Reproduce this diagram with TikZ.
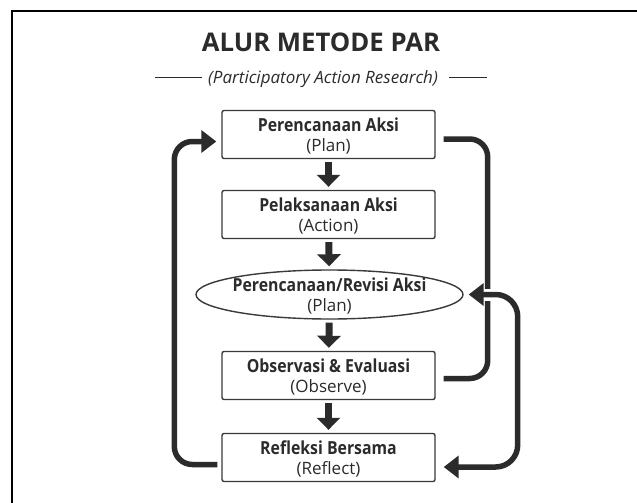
\documentclass[tikz,border=0pt]{standalone}
\usepackage{fontspec}
\setmainfont{Open Sans}
\newfontfamily\boxhead[FakeStretch=0.88]{Open Sans Bold}
\usetikzlibrary{arrows.meta,shapes.geometric,calc}
\definecolor{ink}{HTML}{2B2B2B}
\definecolor{edge}{HTML}{3A3A3A}
\newcommand{\twolines}[2]{\rule{0pt}{17pt}{\boxhead\fontsize{18}{20.5}\selectfont #1}\\{\fontsize{17}{20.5}\selectfont #2}}
\begin{document}
\begin{tikzpicture}[x=1pt,y=-1pt,
  stepbox/.style={draw=edge, line width=1.4pt, rounded corners=2pt, minimum width=213pt, minimum height=48pt, inner sep=0pt, align=center, text=ink, font=\fontsize{17}{20.5}\selectfont},
  ovalbox/.style={ellipse, draw=edge, line width=1.4pt, minimum width=267pt, minimum height=49pt, inner sep=0pt},
  txt/.style={align=center, text=ink, inner sep=0pt, font=\fontsize{17}{20.5}\selectfont},
  blockarrow/.style={draw=ink, line width=7pt, -{Triangle[width=23pt,length=12pt]}, shorten <=3pt, shorten >=3pt},
  loopline/.style={draw=ink, line width=5.5pt},
  loophead/.tip={Triangle[width=22pt,length=15pt]}
]
\useasboundingbox (0,0) rectangle (637,503);
\fill[white] (0,0) rectangle (637,503);
\draw[black, line width=2.2pt] (12,503) -- (12,11) -- (637,11);

\node[anchor=base, text=ink, font=\fontsize{25.7}{30}\bfseries\selectfont] (title) at (321,52) {ALUR METODE PAR};
\node[anchor=base, text=ink, font=\fontsize{17}{20}\itshape\selectfont] (sub) at (323,83) {(Participatory Action Research)};
\draw[ink, line width=1pt] ($(sub.west)+(-3,-1)$) -- ++(-47,0);
\draw[ink, line width=1pt] ($(sub.east)+(8,-1)$) -- ++(38,0);

\node[stepbox] (b1) at (328.5,134.5) {\twolines{Perencanaan Aksi}{(Plan)}};
\node[stepbox] (b2) at (328.5,214.5) {\twolines{Pelaksanaan Aksi}{(Action)}};
\node[ovalbox] (e3) at (329.5,294.5) {};
\node[txt] (e3t) at (329.5,294.5) {\twolines{Perencanaan/Revisi Aksi}{(Plan)}};
\node[stepbox] (b4) at (328.5,375.5) {\twolines{Observasi \& Evaluasi}{(Observe)}};
\node[stepbox] (b5) at (328.5,457.5) {\twolines{Refleksi Bersama}{(Reflect)}};

\draw[blockarrow] (b1) -- (b2);
\draw[blockarrow] (b2) -- (e3);
\draw[blockarrow] (e3) -- (b4);
\draw[blockarrow] (b4) -- (b5);

% left loop
\draw[loopline, rounded corners=18pt, -{loophead}] ($(b5.west)+(-4,7)$) -| ($(b1.west)+(-47,7)$) -- ($(b1.west)+(-5,7)$);
% right bracket
\draw[loopline, rounded corners=18pt] ($(b1.east)+(8,4.5)$) -- ++(44,0) |- ($(b4.east)+(8,3)$);
% mask at crossing
\draw[white, line width=12pt] ($(e3.east)+(20,0)$) -- ++(14,0);
% right double arrow
\draw[loopline, rounded corners=22pt, {loophead}-{loophead}] ($(e3.east)+(5,0)$) -- ++(49,0) |- ($(b5.east)+(8,9.5)$);
\end{tikzpicture}
\end{document}
